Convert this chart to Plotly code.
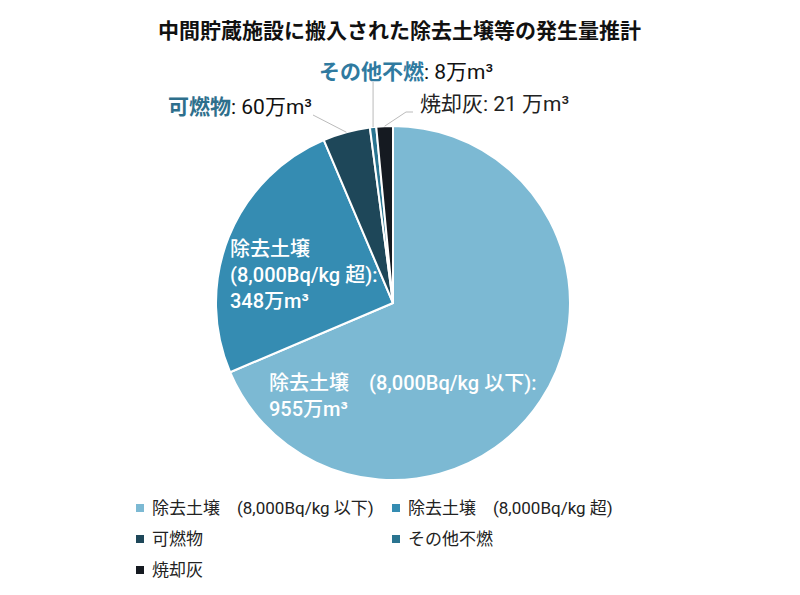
import math

import plotly.graph_objects as go

# 中間貯蔵施設に搬入された除去土壌等の発生量推計 (万m3)
categories = ["除去土壌　(8,000Bq/kg 以下)", "除去土壌　(8,000Bq/kg 超)", "可燃物", "その他不燃", "焼却灰"]
volumes = [955, 348, 60, 8, 21]
slice_colors = ["#7cb9d3", "#358cb2", "#1e4759", "#2a7490", "#151a21"]

FONT = "Roboto, Noto Sans CJK JP"
W, H = 800, 595
OFF = 8  # page body margin of the html output
CX, CY, R = 393, 303, 177  # pie centre / radius in screen px


def px(x):
    return (x - OFF) / W


def py(y):
    return 1 - (y - OFF) / H


def edge_point(idx, r=R):
    # middle angle of a slice, clockwise from 12 o'clock
    total = sum(volumes)
    start = sum(volumes[:idx])
    theta = (start + volumes[idx] / 2) / total * 2 * math.pi
    return CX + r * math.sin(theta), CY - r * math.cos(theta)


fig = go.Figure()

fig.add_trace(go.Pie(
    labels=categories,
    values=volumes,
    sort=False,
    direction="clockwise",
    rotation=0,
    marker=dict(colors=slice_colors, line=dict(color="white", width=2)),
    textinfo="none",
    hoverinfo="label+value",
    showlegend=False,
    domain=dict(x=[px(CX - R), px(CX + R)], y=[py(CY + R), py(CY - R)]),
))

annotations = [
    dict(text="<b>中間貯蔵施設に搬入された除去土壌等の発生量推計</b>", x=px(399), y=py(31),
         xanchor="center", yanchor="middle", font=dict(size=21, color="#111")),
]

# inside labels
annotations.append(dict(
    text=f"除去土壌　(8,000Bq/kg 以下):<br>{volumes[0]}万m³",
    x=px(267), y=py(396), xanchor="left", yanchor="middle", align="left",
    font=dict(size=20, color="white", weight=500),
))
annotations.append(dict(
    text=f"除去土壌<br>(8,000Bq/kg 超):<br>{volumes[1]}万m³",
    x=px(228), y=py(275), xanchor="left", yanchor="middle", align="left",
    font=dict(size=20, color="white", weight=500),
))

# outside labels
annotations.append(dict(
    text=f"<span style='color:#2e6f8c'><b>可燃物</b></span>: {volumes[2]}万m³",
    x=px(314), y=py(107), xanchor="right", yanchor="middle",
    font=dict(size=21, color="#111"),
))
annotations.append(dict(
    text=f"<span style='color:#2f7aa0'><b>その他不燃</b></span>: {volumes[3]}万m³",
    x=px(317), y=py(72), xanchor="left", yanchor="middle",
    font=dict(size=21, color="#111"),
))
annotations.append(dict(
    text=f"焼却灰: {volumes[4]} 万m³",
    x=px(418), y=py(104), xanchor="left", yanchor="middle",
    font=dict(size=21, color="#222"),
))

shapes = []
line_style = dict(color="#bbbbbb", width=1)
ex, ey = edge_point(2)
shapes.append(dict(type="line", xref="paper", yref="paper",
                   x0=px(ex), y0=py(ey), x1=px(313), y1=py(115), line=line_style))
ex, ey = edge_point(3)
shapes.append(dict(type="line", xref="paper", yref="paper",
                   x0=px(ex), y0=py(ey), x1=px(ex), y1=py(82), line=line_style))
ex, ey = edge_point(4)
shapes.append(dict(type="path", xref="paper", yref="paper",
                   path=f"M {px(ex)} {py(ey)} L {px(406)} {py(112)} L {px(413)} {py(112)}",
                   line=line_style))

# legend: two columns, rows top to bottom
for i, (name, color) in enumerate(zip(categories, slice_colors)):
    lx = [136, 392][i % 2]
    ly = 508 + 31 * (i // 2)
    shapes.append(dict(type="rect", xref="paper", yref="paper",
                       x0=px(lx), x1=px(lx + 8), y0=py(ly + 4), y1=py(ly - 4),
                       fillcolor=color, line=dict(width=0)))
    annotations.append(dict(text=name, x=px(lx + 14), y=py(ly), xanchor="left", yanchor="middle",
                            font=dict(size=17, color="#222")))

for a in annotations:
    a.update(xref="paper", yref="paper", showarrow=False)

fig.update_layout(
    width=W,
    height=H,
    margin=dict(l=0, r=0, t=0, b=0),
    paper_bgcolor="white",
    plot_bgcolor="white",
    font=dict(family=FONT, color="#222"),
    showlegend=False,
    annotations=annotations,
    shapes=shapes,
)

fig.write_html("out.html")
